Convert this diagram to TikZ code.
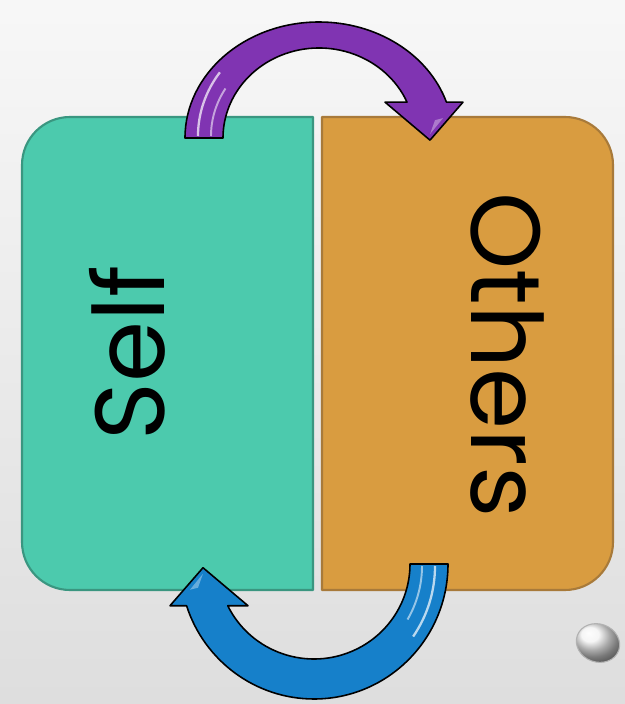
\documentclass[tikz,border=0pt]{standalone}
\usepackage{fontspec}
\newfontfamily\labelfont{Poppins}

\begin{document}
\begin{tikzpicture}[
    x=0.02cm, y=0.02cm,
    line join=round,
    every node/.style={font=\labelfont\fontsize{56}{60}\selectfont, inner sep=0pt},
]

\definecolor{selfgreen}{RGB}{76,202,173}
\definecolor{selfedge}{RGB}{58,150,128}
\definecolor{othersorange}{RGB}{217,156,64}
\definecolor{othersedge}{RGB}{168,122,58}
\definecolor{arrowpurple}{RGB}{128,52,178}
\definecolor{arrowblue}{RGB}{22,128,202}

% ---------- macro: curved block arrow (tail on the left, head on the right) ----------
% #1 = x-shift, #2 = y-shift, #3 = colour, #4 = rotation
% #5 = outer y radius, #6 = inner y radius (x radii fixed at 134 / 96)
\newcommand{\cyclearrow}[6]{%
    \begin{scope}[shift={(#1,#2)}, rotate=#4]
        \pgfmathsetmacro\baseh{#5*sin(18)}
        \pgfmathsetmacro\inang{asin(\baseh/#6)}
        \pgfmathsetmacro\inx{96*cos(\inang)}
        \pgfmathsetmacro\tiph{\baseh-38}
        \pgfmathsetmacro\midr{(#5+#6)/2}
        \filldraw[fill=#3, draw=black, line width=0.9pt]
            (-134,0) arc[start angle=180, end angle=18, x radius=134, y radius=#5]
            -- (144,\baseh) -- (111,\tiph) -- (66,\baseh) -- (\inx,\baseh)
            arc[start angle=\inang, end angle=180, x radius=96, y radius=#6]
            -- cycle;
        % glossy streaks near the tail
        \draw[white, opacity=0.7, line width=1.3pt]
            (-121,2) arc[start angle=180, end angle=145, x radius=121, y radius=\midr+8];
        \draw[white, opacity=0.55, line width=1.1pt]
            (-108,2) arc[start angle=180, end angle=150, x radius=108, y radius=\midr-8];
        % soft light on the head
        \fill[white, opacity=0.35] (111,\tiph+6) -- (124,\tiph+22) -- (116,\tiph+20) -- cycle;
    \end{scope}
}

% background
\shade[top color=black!3, bottom color=black!13] (0,0) rectangle (625,704);
\useasboundingbox (0,0) rectangle (625,704);

% ---------- the two halves ----------
\filldraw[fill=selfgreen, draw=selfedge, line width=1.2pt]
    (313,114) -- (313,587) -- (70,587)
    arc[start angle=90, end angle=180, radius=48] -- (22,162)
    arc[start angle=180, end angle=270, radius=48] -- cycle;
\filldraw[fill=othersorange, draw=othersedge, line width=1.2pt]
    (322,114) -- (322,587) -- (565,587)
    arc[start angle=90, end angle=0, radius=48] -- (613,162)
    arc[start angle=0, end angle=-90, radius=48] -- cycle;

\node[rotate=90] (self) at (127,351) {Self};
\node[rotate=-90] (others) at (507,349) {Others};

% ---------- arrows ----------
\cyclearrow{319}{566}{arrowpurple}{0}{116}{90}
\cyclearrow{314}{140}{arrowblue}{180}{135}{95}

% little glass bead
\shade[ball color=black!5] (598,61) ellipse [x radius=22, y radius=19, rotate=-20];
\draw[black!30, line width=0.6pt] (598,61) ellipse [x radius=22, y radius=19, rotate=-20];

\end{tikzpicture}
\end{document}
